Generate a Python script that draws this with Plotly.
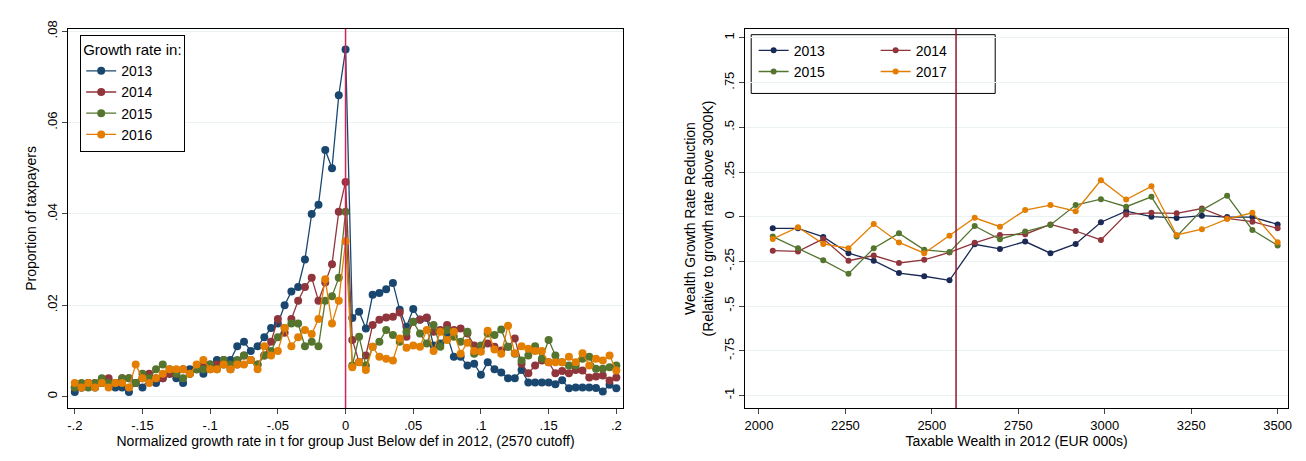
import plotly.graph_objects as go
from plotly.subplots import make_subplots

# left panel: normalized growth rate bins, -0.2 .. 0.2 step 0.005
bins = [round(-0.2 + 0.005 * i, 3) for i in range(81)]

left13 = [.001, .002, .003, .002, .003, .003, .002, .002, .001, .003, .002, .004, .003, .004, .005, .004, .003,
          .006, .006, .005, .007, .008, .007, .008, .011, .012, .010, .011, .013, .015, .016, .020, .023, .024,
          .030, .040, .042, .054, .050, .066, .076,
          .0172, .0186, .0149, .0223, .0227, .0235, .0249, .019, .0153, .0192, .0168, .0172, .0112, .0116, .0135,
          .0087, .0087, .0068, .0072, .0048, .0075, .006, .0053, .004, .004, .0058, .0031, .0031, .0031, .0031,
          .0027, .0036, .0018, .002, .002, .002, .0019, .0011, .0026, .0018]
left14 = [.002, .002, .003, .003, .003, .004, .003, .004, .004, .003, .004, .005, .004, .004, .005, .005, .006,
          .005, .006, .007, .006, .007, .008, .006, .007, .009, .008, .007, .009, .012, .017, .014, .017, .021,
          .024, .026, .021, .025, .029, .0405, .047,
          .0124, .0076, .0090, .0157, .0168, .0173, .0175, .0184, .0131, .0164, .0169, .0173, .0142, .0146, .0157,
          .0146, .0149, .0138, .0112, .0109, .0116, .0109, .0101, .0109, .0127, .0072, .0051, .0068, .0079, .0075,
          .0051, .0056, .0051, .0058, .0057, .0042, .0044, .0046, .0035, .0042]
left15 = [.002, .003, .002, .003, .004, .003, .003, .004, .004, .003, .005, .004, .006, .007, .006, .005, .004,
          .005, .006, .006, .007, .006, .008, .007, .008, .009, .008, .007, .009, .010, .013, .015, .016, .016,
          .011, .012, .011, .021, .022, .026, .0405,
          .0068, .0131, .0068, .0109, .012, .0146, .0135, .012, .0142, .0164, .0138, .0116, .0157, .0109, .0146,
          .0131, .012, .0142, .0094, .0112, .0138, .0135, .0147, .0109, .0094, .0079, .009, .011, .0083, .0124,
          .009, .0075, .0068, .0068, .0083, .0087, .0061, .0061, .0064, .0068]
left16 = [.003, .002, .003, .002, .003, .002, .003, .003, .002, .007, .004, .003, .004, .005, .006, .006, .006,
          .005, .007, .008, .006, .006, .007, .006, .007, .007, .008, .006, .011, .009, .010, .015, .011, .013,
          .0146, .0137, .017, .0257, .016, .021, .034,
          .0064, .0075, .0058, .0109, .0087, .0083, .0079, .0127, .0107, .0112, .0109, .0146, .01, .0142, .0124,
          .0142, .0094, .0118, .01, .0098, .0144, .0103, .0094, .0155, .0095, .011, .0105, .01, .01, .0075,
          .0075, .0075, .0087, .0075, .0095, .0068, .0083, .0079, .009, .0057]

# right panel: taxable wealth bins
wealth = [2040 + 73 * i for i in range(21)]
r13 = [-.065, -.065, -.113, -.204, -.246, -.315, -.333, -.356, -.154, -.180, -.139, -.204, -.152, -.031, .031,
       0, -.007, .006, -.002, -.002, -.043]
r14 = [-.19, -.194, -.124, -.246, -.217, -.259, -.241, -.2, -.146, -.102, -.098, -.043, -.080, -.130, .013,
       .022, .019, .046, -.009, -.028, -.065]
r15 = [-.111, -.176, -.244, -.319, -.176, -.093, -.185, -.198, -.052, -.126, -.083, -.046, .065, .098, .056,
       .111, -.111, .037, .117, -.074, -.161]
r17 = [-.124, -.059, -.152, -.176, -.041, -.144, -.204, -.107, -.006, -.056, .037, .065, .031, .204, .096,
       .170, -.102, -.070, -.013, .022, -.143]

navy, maroon, green, orange = "#1a476f", "#90353b", "#55752f", "#e37e00"
font = "Liberation Sans, Arial, sans-serif"

fig = make_subplots(rows=1, cols=2)
for name, ys, c in [("2013", left13, navy), ("2014", left14, maroon), ("2015", left15, green), ("2016", left16, orange)]:
    fig.add_trace(go.Scatter(x=bins, y=ys, name=name, mode="lines+markers", line=dict(color=c, width=1.3),
                             marker=dict(size=8, color=c), legend="legend"), row=1, col=1)
# right legend laid out as two columns: legend2 (left column), legend3 (right column)
for name, ys, c, lg in [("2013", r13, "#1a2a55", "legend2"), ("2014", r14, maroon, "legend3"),
                        ("2015", r15, green, "legend2"), ("2017", r17, orange, "legend3")]:
    fig.add_trace(go.Scatter(x=wealth, y=ys, name=name, mode="lines+markers", line=dict(color=c, width=1.3),
                             marker=dict(size=6, color=c), legend=lg), row=1, col=2)

fig.add_vline(x=0, line=dict(color="#d0245a", width=1.5), row=1, col=1)
fig.add_vline(x=2570, line=dict(color="#8b1a2e", width=1.5), row=1, col=2)

ax = dict(showline=True, linecolor="black", mirror=True, ticks="outside", ticklen=5, gridcolor="#eaf2f3",
          zeroline=False, tickfont=dict(size=13, color="black"))
fig.update_xaxes(**ax)
fig.update_yaxes(**ax)
fig.update_xaxes(domain=[0, 0.455], range=[-0.205, 0.205], tickvals=[-.2, -.15, -.1, -.05, 0, .05, .1, .15, .2],
                 ticktext=["-.2", "-.15", "-.1", "-.05", "0", ".05", ".1", ".15", ".2"], showgrid=False,
                 title=dict(text="Normalized growth rate in t for group Just Below def in 2012, (2570 cutoff)",
                            font=dict(size=14), standoff=2), row=1, col=1)
fig.update_yaxes(range=[-0.0025, 0.0805], tickvals=[0, .02, .04, .06, .08], ticktext=["0", ".02", ".04", ".06", ".08"],
                 tickangle=-90, title=dict(text="Proportion of taxpayers", font=dict(size=14), standoff=4), row=1, col=1)
fig.update_xaxes(domain=[0.555, 1], range=[1960, 3530], tickvals=[2000, 2250, 2500, 2750, 3000, 3250, 3500],
                 showgrid=False, title=dict(text="Taxable Wealth in 2012 (EUR 000s)", font=dict(size=14), standoff=2),
                 row=1, col=2)
fig.update_yaxes(range=[-1.07, 1.05], tickvals=[1, .75, .5, .25, 0, -.25, -.5, -.75, -1],
                 ticktext=["1", ".75", ".5", ".25", "0", "-.25", "-.5", "-.75", "-1"], tickangle=-90,
                 title=dict(text="Wealth Growth Rate Reduction<br>(Relative to growth rate above 3000K)",
                            font=dict(size=14), standoff=4), row=1, col=2)

fig.add_shape(type="rect", xref="paper", yref="paper", x0=0.56, x1=0.76, y0=0.83, y1=0.985,
              line=dict(color="black", width=1), fillcolor="white", layer="below")

fig.update_layout(
    width=1306, height=461, paper_bgcolor="white", plot_bgcolor="rgba(0,0,0,0)",
    margin=dict(l=60, r=26, t=18, b=61), font=dict(family=font, color="black"),
    legend=dict(x=0.01, y=0.985, xanchor="left", yanchor="top", bordercolor="black", borderwidth=1,
                title=dict(text="Growth rate in:", font=dict(size=15)), font=dict(size=14), bgcolor="white",
                tracegroupgap=0),
    legend2=dict(x=0.562, y=0.985, xanchor="left", yanchor="top", font=dict(size=14),
                 bgcolor="rgba(0,0,0,0)", tracegroupgap=0),
    legend3=dict(x=0.662, y=0.985, xanchor="left", yanchor="top", font=dict(size=14),
                 bgcolor="rgba(0,0,0,0)", tracegroupgap=0),
)
fig.write_html("out.html")
